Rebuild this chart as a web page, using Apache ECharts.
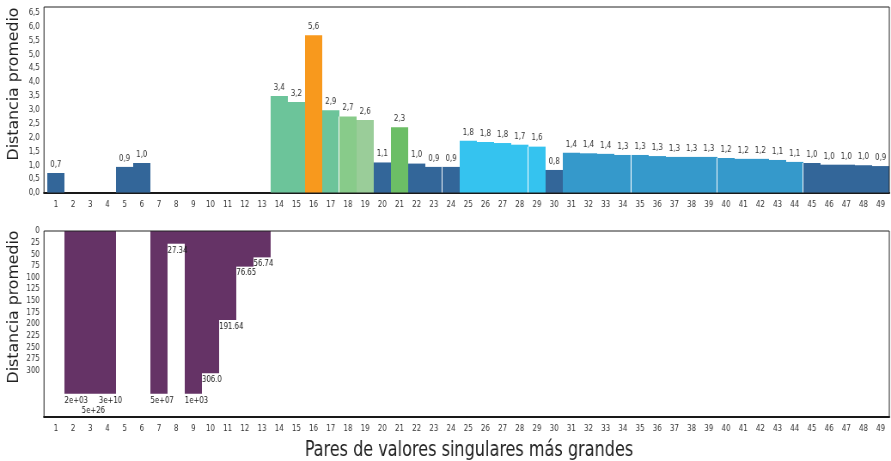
<!DOCTYPE html>
<html>
<head>
<meta charset="utf-8">
<script src="https://cdn.jsdelivr.net/npm/echarts@6/dist/echarts.min.js"></script>
<style>
  html, body { margin: 0; padding: 0; background: #ffffff; overflow: hidden; }
  #wrap { width: 891px; height: 461px; overflow: hidden; }
  /* the chart is laid out on a wider canvas and narrowed horizontally,
     which gives the tall, condensed lettering of the figure */
  #chart { width: 1037px; height: 461px; transform-origin: 0 0; transform: scaleX(0.859209); }
</style>
</head>
<body>
<div id="wrap"><div id="chart"></div></div>
<script>
// Pairs of largest singular values (1..49)
const categories = ['1','2','3','4','5','6','7','8','9','10','11','12','13','14','15','16','17','18','19','20',
  '21','22','23','24','25','26','27','28','29','30','31','32','33','34','35','36','37','38','39','40',
  '41','42','43','44','45','46','47','48','49'];

// Mean distance per pair (upper panel)
const meanDistance = [0.72, null, null, null, 0.94, 1.08, null, null, null, null, null, null, null,
  3.49, 3.28, 5.68, 2.98, 2.76, 2.63, 1.10, 2.37, 1.06, 0.94, 0.94,
  1.88, 1.84, 1.80, 1.74, 1.67, 0.83,
  1.45, 1.43, 1.41, 1.37, 1.37, 1.33, 1.30, 1.30, 1.30, 1.26, 1.23, 1.23, 1.19, 1.12,
  1.08, 1.02, 1.02, 1.00, 0.97];

// Group of each pair (upper panel)
const pairGroup = ['base', null, null, null, 'base', 'base', null, null, null, null, null, null, null,
  'teal', 'teal', 'peak', 'teal', 'sage', 'mint', 'base', 'leaf', 'base', 'base', 'base',
  'sky', 'sky', 'sky', 'sky', 'sky', 'base',
  'blue', 'blue', 'blue', 'blue', 'blue', 'blue', 'blue', 'blue', 'blue', 'blue', 'blue', 'blue', 'blue', 'blue',
  'base', 'base', 'base', 'base', 'base'];

// Pairs followed by a thin white divider in the upper panel
const dividerAfter = ['17', '23', '28', '34', '39', '44'];

// Mean distance per pair (lower panel, raw values)
const lowerDistance = [null, 2e3, 5e26, 3e10, null, null, 5e7, 27.34, 1e3, 306.0, 191.64, 76.65, 56.74,
  null, null, null, null, null, null, null, null, null, null, null, null, null, null, null, null, null,
  null, null, null, null, null, null, null, null, null, null, null, null, null, null, null, null, null, null, null];

// Bars in the lower panel are cut off at this value
const lowerCap = 350;

const groupColor = {
  base: '#336699', teal: '#6cc49a', peak: '#f8991d', sage: '#88cb8a', mint: '#9acd99',
  leaf: '#6cbe66', sky: '#35c3ef', blue: '#3599cb'
};
const purple = '#653366';
const font = "'DejaVu Sans Condensed', 'DejaVu Sans', sans-serif";
const SX = 891 / 1037;           // horizontal narrowing applied to the canvas
const px = x => x / SX;          // screen x -> layout x

// plot area on the layout canvas: 49 bands of 20 px each
const plotLeft = 55, plotWidth = 980, plotRight = 1037 - plotLeft - plotWidth;

function fmtUpper(v) {
  return (Math.floor(v * 10 + 1e-6) / 10).toFixed(1).replace('.', ',');
}
function fmtLower(v) {
  if (v > lowerCap) {
    const s = v.toExponential(0);             // e.g. "2e+3"
    return s.replace(/e([+-])(\d)$/, 'e$10$2');
  }
  const r = Math.round(v * 100) / 100;
  return Number.isInteger(r) ? r.toFixed(1) : String(r);
}

const upperData = meanDistance.map((v, i) => v == null ? null :
  { value: v, itemStyle: { color: groupColor[pairGroup[i]] } });

// divider between pair k and k+1 reaches up to the lower of the two bars
const dividerData = dividerAfter.map(k => {
  const i = categories.indexOf(k);
  return [i, Math.min(meanDistance[i], meanDistance[i + 1])];
});

const isCapped = i => lowerDistance[i] != null && lowerDistance[i] > lowerCap;
const lowerBars = lowerDistance.map(v => v == null ? null : Math.min(v, lowerCap));
const lowerLabels = lowerDistance.map((v, i) => {
  if (v == null) return null;
  const stagger = isCapped(i) && isCapped(i - 1) && isCapped(i + 1);
  return { value: Math.min(v, lowerCap), raw: v, label: { offset: [0, stagger ? 12 : 2] } };
});

const frameAxis = (gi, withLine) => ({
  type: 'value', gridIndex: gi, min: 0, max: 1,
  axisLine: { show: withLine, onZero: false, lineStyle: { color: '#111', width: 2 } },
  axisTick: { show: false }, axisLabel: { show: false }, splitLine: { show: false }
});
const catAxis = gi => ({
  type: 'category', gridIndex: gi, data: categories,
  axisLine: { show: false }, axisTick: { show: false },
  axisLabel: { interval: 0, fontSize: 9, color: '#333', margin: 7, fontFamily: font }
});

const chart = echarts.init(document.getElementById('chart'), null, { renderer: 'canvas' });
chart.setOption({
  animation: false,
  backgroundColor: '#ffffff',
  textStyle: { fontFamily: font },
  grid: [
    { left: plotLeft, right: plotRight, top: 7, height: 186 },
    { left: px(44), right: plotRight, top: 7, height: 186, show: true, borderColor: '#222', borderWidth: 1, z: 5 },
    { left: plotLeft, right: plotRight, top: 231, height: 186 },
    { left: px(44), right: plotRight, top: 231, height: 186, show: true, borderColor: '#222', borderWidth: 1, z: 5 }
  ],
  xAxis: [catAxis(0), frameAxis(1, true), catAxis(2), frameAxis(3, true)],
  yAxis: [
    { type: 'value', gridIndex: 0, min: 0, max: 6.7, interval: 0.5,
      axisLine: { show: false }, axisTick: { show: false }, splitLine: { show: false },
      axisLabel: { fontSize: 9, color: '#333', margin: px(7.5), fontFamily: font,
        formatter: v => (Math.abs(v * 2 - Math.round(v * 2)) < 1e-6) ? v.toFixed(1).replace('.', ',') : '' } },
    Object.assign(frameAxis(1, false), { show: false }),
    { type: 'value', gridIndex: 2, min: 0, max: 400, interval: 25, inverse: true,
      axisLine: { show: false }, axisTick: { show: false }, splitLine: { show: false },
      axisLabel: { fontSize: 9, color: '#333', margin: px(7.5), fontFamily: font,
        formatter: v => v <= 300 ? String(v) : '' } },
    Object.assign(frameAxis(3, false), { show: false })
  ],
  series: [
    {
      type: 'bar', xAxisIndex: 0, yAxisIndex: 0, data: upperData,
      barCategoryGap: 0, z: 3,
      label: { show: true, position: 'top', distance: 4, fontSize: 9, color: '#333', fontFamily: font,
        formatter: p => fmtUpper(p.value) }
    },
    {
      // thin white dividers between some neighbouring bars
      type: 'custom', xAxisIndex: 0, yAxisIndex: 0, data: dividerData, z: 4, silent: true,
      renderItem: (params, api) => {
        const top = api.coord([api.value(0), api.value(1)]);
        const base = api.coord([api.value(0), 0]);
        const edge = Math.round(top[0] + api.size([1, 0])[0] / 2);
        return { type: 'rect', shape: { x: edge - 1, y: top[1], width: 1, height: base[1] - top[1] },
          style: { fill: '#ffffff' } };
      }
    },
    {
      type: 'bar', xAxisIndex: 2, yAxisIndex: 2, data: lowerBars,
      barCategoryGap: 0, z: 3, itemStyle: { color: purple }
    },
    {
      // value labels of the lower panel, drawn above every bar
      type: 'bar', xAxisIndex: 2, yAxisIndex: 2, data: lowerLabels,
      barCategoryGap: 0, barGap: '-100%', z: 4, itemStyle: { color: 'rgba(0,0,0,0)' },
      label: { show: true, position: [0, '100%'], align: 'left', verticalAlign: 'top',
        fontSize: 9, color: '#1a1a1a', fontFamily: font,
        formatter: p => fmtLower(p.data.raw) }
    }
  ],
  graphic: [
    { type: 'text', x: px(14), y: 84, rotation: Math.PI / 2,
      style: { text: 'Distancia promedio', font: '17.5px ' + font, fill: '#222', align: 'center', verticalAlign: 'middle' } },
    { type: 'text', x: px(14), y: 307, rotation: Math.PI / 2,
      style: { text: 'Distancia promedio', font: '17.5px ' + font, fill: '#222', align: 'center', verticalAlign: 'middle' } },
    { type: 'text', x: px(469), y: 451,
      style: { text: 'Pares de valores singulares más grandes', font: '20.8px ' + font, fill: '#222', align: 'center', verticalAlign: 'middle' } }
  ]
});
</script>
</body>
</html>
